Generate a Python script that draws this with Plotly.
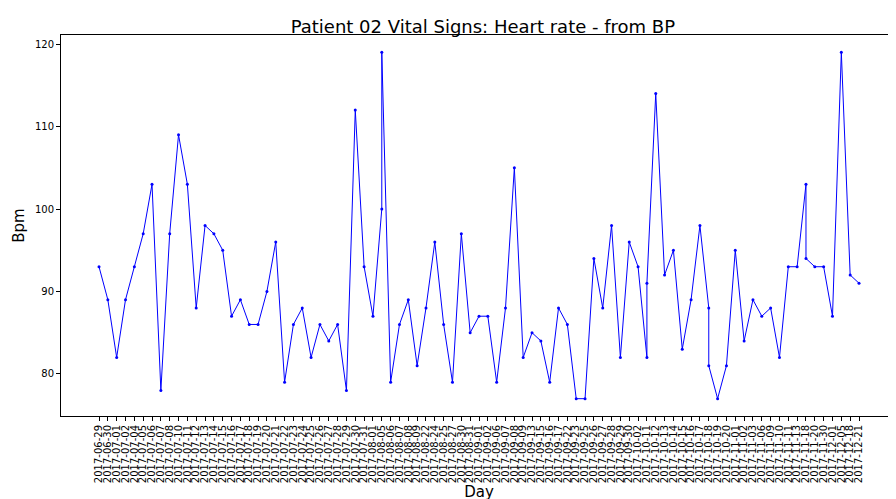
import plotly.graph_objects as go

days = [
    "06-29", "06-30", "07-01", "07-02", "07-04", "07-05", "07-06", "07-07", "07-08", "07-10",
    "07-11", "07-12", "07-13", "07-14", "07-15", "07-16", "07-17", "07-18", "07-19", "07-20",
    "07-21", "07-22", "07-23", "07-24", "07-25", "07-26", "07-27", "07-28", "07-29", "07-30",
    "07-31", "08-01", "08-05", "08-06", "08-07", "08-08", "08-09", "08-22", "08-24", "08-25",
    "08-27", "08-30", "08-31", "09-01", "09-02", "09-06", "09-07", "09-08", "09-09", "09-13",
    "09-15", "09-16", "09-17", "09-22", "09-23", "09-25", "09-26", "09-27", "09-28", "09-29",
    "09-30", "10-02", "10-11", "10-12", "10-13", "10-14", "10-15", "10-16", "10-17", "10-18",
    "10-19", "10-20", "11-01", "11-02", "11-03", "11-06", "11-09", "11-10", "11-11", "11-13",
    "11-18", "11-20", "11-30", "12-01", "12-05", "12-18", "12-21",
]
days = ["2017-" + d for d in days]

# readings per day (some days have two readings)
bpm = [
    [93], [89], [82], [89], [93], [97], [103], [78], [97], [109],
    [103], [88], [98], [97], [95], [87], [89], [86], [86], [90],
    [96], [79], [86], [88], [82], [86], [84], [86], [78], [112],
    [93], [87], [100, 119], [79], [86], [89], [81], [88], [96], [86],
    [79], [97], [85], [87], [87], [79], [88], [105], [82], [85],
    [84], [79], [88], [86], [77], [77], [94], [88], [98], [82],
    [96], [93], [82, 91], [114], [92], [95], [83], [89], [98], [88, 81],
    [77], [81], [95], [84], [89], [87], [88], [82], [93], [93],
    [103, 94], [93], [93], [87], [119], [92], [91],
]

x = []
y = []
for d, vals in zip(days, bpm):
    for v in vals:
        x.append(d)
        y.append(v)

fig = go.Figure()
fig.add_trace(go.Scatter(
    x = x, y = y,
    mode = "lines+markers",
    line = dict(color = "blue", width = 1),
    marker = dict(color = "blue", size = 3),
))

axis_style = dict(
    showline = True, mirror = True, linecolor = "black", linewidth = 1,
    ticks = "outside", ticklen = 4, tickcolor = "black",
    showgrid = False, zeroline = False, automargin = False,
)

fig.update_layout(
    title = dict(text = "Patient 02 Vital Signs: Heart rate - from BP", x = 0.53, y = 0.975,
                 font = dict(size = 18, color = "black")),
    width = 896, height = 499,
    margin = dict(l = 53, r = 7, t = 27, b = 91),
    plot_bgcolor = "white", paper_bgcolor = "white",
    font = dict(family = "DejaVu Sans"),
    showlegend = False,
)
fig.update_xaxes(axis_style, type = "category", tickangle = -90, range = [-4.3, 90.3],
                 tickmode = "array", tickvals = days, ticktext = days,
                 tickfont = dict(size = 10, color = "black"),
                 title = dict(text = "Day", font = dict(size = 15, color = "black"), standoff = 2))
fig.update_yaxes(axis_style, range = [74.9, 121.1], tickvals = [80, 90, 100, 110, 120],
                 tickfont = dict(size = 10, color = "black"),
                 title = dict(text = "Bpm", font = dict(size = 15, color = "black"), standoff = 6))

fig.write_html("out.html")
